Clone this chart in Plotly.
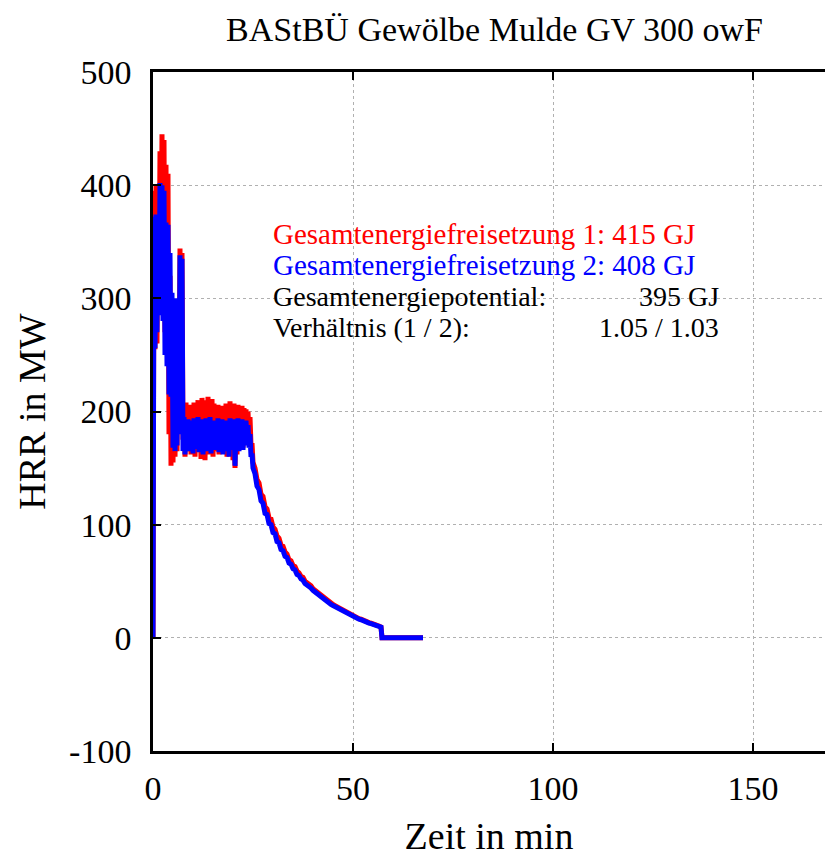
import plotly.graph_objects as go

# ---- sampling times (min) ----
time_early = [i * 0.25 for i in range(101)]        # 0 .. 25 min
time_late = [25.5 + i * 0.5 for i in range(64)]    # 25.5 .. 57 min
time_tail = [57.25, 67.5]                          # after burnout

# ---- HRR series 1 (red), MW ----
hrr1_early = [0, 395, 255, 400, 260, 390, 300, 430, 320, 445, 300, 440, 270, 418, 255, 410,
              180, 320, 152, 290, 155, 230, 160, 215, 165, 290, 200, 344, 210, 340, 175,
              205, 160, 208, 165, 200, 170, 206, 162, 203, 168,
              208, 160, 200, 172, 210, 165, 204, 158, 212, 170,
              205, 157, 210, 166, 213, 162, 208, 168, 211, 160,
              207, 165, 202, 170, 206, 162, 203, 167, 205, 163,
              200, 170, 207, 160, 204, 166, 209, 163, 205, 157,
              207, 150, 203, 162, 206, 166, 204, 170, 205, 168,
              203, 172, 202, 175, 200, 178, 195, 170, 172, 155]
hrr1_late = [150, 140, 137, 127, 125, 116, 114, 106, 105, 98,
             96, 90, 88, 82, 81, 76, 74, 69, 68, 64,
             63, 59, 57.5, 54.5, 53.5, 50, 49, 47, 46, 43.5,
             42, 40.5, 39, 37.5, 36, 34.5, 33, 32, 30.5, 29.5,
             28.5, 27.5, 26.5, 25.5, 24.5, 23, 22, 21, 20, 19,
             18.5, 17.5, 17, 16.5, 15.5, 15, 14, 13.5, 13, 12,
             11.5, 11, 10.5, 9.5]
hrr1_tail = [0, 0]

# ---- HRR series 2 (blue), MW ----
hrr2_early = [0, 372, 256, 374, 270, 360, 285, 402, 290, 400, 280, 395, 250, 367, 240, 365,
              215, 340, 213, 305, 168, 300, 165, 250, 170, 300, 180, 338, 190, 335, 165,
              195, 162, 190, 168, 193, 165, 188, 170, 192, 163,
              194, 167, 186, 172, 195, 164, 190, 168, 193, 162,
              188, 170, 194, 165, 190, 168, 195, 163, 189, 170,
              192, 166, 187, 171, 194, 164, 190, 168, 193, 162,
              188, 170, 192, 165, 190, 160, 194, 168, 191, 166,
              193, 152, 190, 170, 194, 165, 191, 168, 193, 166,
              190, 170, 192, 172, 188, 168, 180, 160, 163, 150]
hrr2_late = [145, 134, 131, 121, 119, 110, 109, 101, 100, 93,
             92, 85, 84, 78, 77, 72, 71, 66, 65, 61,
             60, 56, 55, 52, 51, 48, 47, 45, 44, 42,
             40.5, 39, 37.5, 36, 34.5, 33, 32, 31, 29.5, 28.5,
             27.5, 26.5, 25.5, 24.5, 23.5, 22.5, 21.5, 20.5, 19.5, 18.5,
             18, 17, 16.5, 16, 15, 14.5, 14, 13, 12.5, 12,
             11.5, 11, 10.5, 9.5]
hrr2_tail = [0, 0]

time_all = time_early + time_late + time_tail
hrr1 = hrr1_early + hrr1_late + hrr1_tail
hrr2 = hrr2_early + hrr2_late + hrr2_tail

# ---- text ----
title_text = "BAStBÜ Gewölbe Mulde GV 300 owF"
x_label = "Zeit in min"
y_label = "HRR in MW"
info_full = ["Gesamtenergiefreisetzung 1: 415 GJ", "Gesamtenergiefreisetzung 2: 408 GJ"]
info_full_colors = ["#ff0000", "#0000ff"]
info_labels = ["Gesamtenergiepotential:", "Verhältnis (1 / 2):"]
info_values = ["395 GJ", "1.05 / 1.03"]

x_ticks = [0, 50, 100, 150]
y_ticks = [-100, 0, 100, 200, 300, 400, 500]
y_ticktext = ["-100", "0", "100", "200", "300", "400", "500"]

FONT = "Liberation Serif"

fig = go.Figure()
fig.add_trace(go.Scatter(x=time_all, y=hrr1, mode="lines",
                         line=dict(color="#ff0000", width=5), showlegend=False))
fig.add_trace(go.Scatter(x=time_all, y=hrr2, mode="lines",
                         line=dict(color="#0000ff", width=5), showlegend=False))

# info text block
label_x = 29.5
value_x = 142.0
rows_y = [357, 329.5, 302, 274.5]
for txt, col, yy in zip(info_full, info_full_colors, rows_y[:2]):
    fig.add_annotation(x=label_x, y=yy, xref="x", yref="y", text=txt, showarrow=False,
                       xanchor="left", yanchor="middle",
                       font=dict(family=FONT, size=29, color=col))
for lab, val, yy in zip(info_labels, info_values, rows_y[2:]):
    fig.add_annotation(x=label_x, y=yy, xref="x", yref="y", text=lab, showarrow=False,
                       xanchor="left", yanchor="middle",
                       font=dict(family=FONT, size=28, color="black"))
    fig.add_annotation(x=value_x, y=yy, xref="x", yref="y", text=val, showarrow=False,
                       xanchor="right", yanchor="middle",
                       font=dict(family=FONT, size=28, color="black"))

fig.update_layout(
    width=825, height=857,
    margin=dict(l=153, r=0, t=72, b=106),
    paper_bgcolor="white", plot_bgcolor="white",
    font=dict(family=FONT, color="black"),
    title=dict(text=title_text, x=0.5994, xanchor="center", y=0.966, yanchor="middle",
               font=dict(family=FONT, size=34, color="black")),
)
fig.update_xaxes(
    range=[0, 168], tickvals=x_ticks, ticks="inside", ticklen=8, tickwidth=2,
    tickcolor="black", showline=True, linecolor="black", linewidth=2.5, mirror="ticks",
    showgrid=True, gridcolor="#b0b0b0", griddash="dot", gridwidth=1, zeroline=False,
    ticklabelstandoff=5,
    tickfont=dict(family=FONT, size=34, color="black"),
    title=dict(text=x_label, font=dict(family=FONT, size=38, color="black"), standoff=18),
)
fig.update_yaxes(
    range=[-100, 500], tickvals=y_ticks, ticktext=y_ticktext, ticks="inside", ticklen=8,
    tickwidth=2, tickcolor="black", showline=True, linecolor="black", linewidth=2.5,
    showgrid=True, gridcolor="#b0b0b0", griddash="dot", gridwidth=1, zeroline=False,
    ticklabelstandoff=12,
    tickfont=dict(family=FONT, size=34, color="black"),
    title=dict(text=y_label, font=dict(family=FONT, size=38, color="black"), standoff=12),
)

fig.write_html("out.html", config={"displayModeBar": False},
               post_script="document.body.style.margin='0';")
